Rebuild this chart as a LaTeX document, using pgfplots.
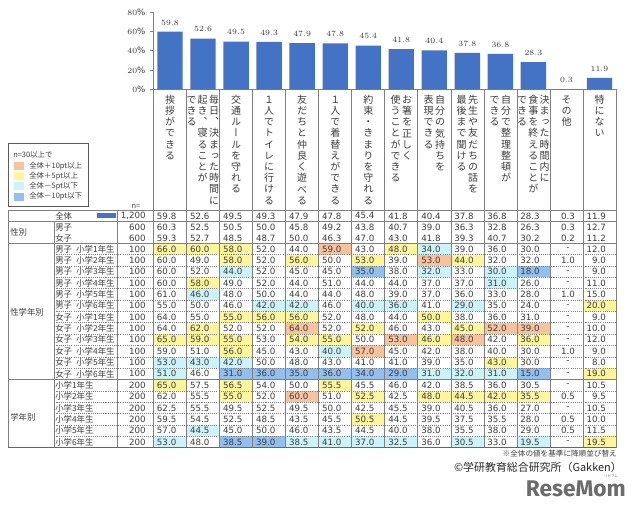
\documentclass[border=0pt]{standalone}
\usepackage{pgfplots}
\pgfplotsset{compat=1.18}
\usepackage{fontspec}
\setmainfont{DejaVu Sans}
\newfontfamily\jp{Noto Sans CJK JP}
\newfontfamily\jpv{Noto Sans CJK JP}[RawFeature=+vert]
\newfontfamily\logofont{Fira Sans}
\definecolor{barblue}{HTML}{4472C4}
\definecolor{txt}{HTML}{3C3C3C}
\definecolor{cn}{HTML}{FFFFFF}
\definecolor{cy}{HTML}{FFF59D}
\definecolor{co}{HTML}{F8C29E}
\definecolor{cl}{HTML}{CCF3FA}
\definecolor{cb}{HTML}{92BFEE}
\definecolor{gridc}{HTML}{808080}
\newdimen\px \px=0.75pt
\def\vtA#1{\ifx\relax#1\else\hbox to 11\px{\hss\vrule width 0pt height 8.4\px depth 2.8\px#1\hss}\expandafter\vtA\fi}
\newcommand\vt[1]{\vbox{\offinterlineskip\vtA#1\relax}}
\newcommand\gsp{\hspace{3.2pt}}
\tikzset{
  num/.style={font=\fontsize{6.5pt}{7pt}\selectfont, text=txt, inner sep=0pt},
  lab/.style={font=\jp\fontsize{6.3pt}{7pt}\selectfont, text=txt, inner sep=0pt},
  vlab/.style={anchor=north, inner sep=0pt, font=\jpv\fontsize{7.5pt}{8pt}\selectfont, text=txt},
  gl/.style={draw=gridc, line width=0.5pt},
  dl/.style={draw=gridc, line width=0.4pt, dash pattern=on 0.8pt off 0.8pt},
}
% #1 top, #2 height, #3 label, #4 n, #5 values
\newcommand\trow[5]{%
  \node[lab,anchor=west] at (55,{#1+#2/2}) {#3};
  \node[num,anchor=east] at (146,{#1+#2/2}) {#4};
  \foreach \v/\c [count=\i] in {#5}{%
    \edef\cc{c\c}%
    \fill[fill=\cc] ({153.5+33.04*(\i-1)},#1) rectangle ({153.5+33.04*\i},{#1+#2});
    \ifnum\i=13
      \node[num] at ({153.5+33.04*12.5+1.5},{#1+#2/2}) {\v};
    \else
      \node[num,anchor=east] at ({153.5+33.04*\i-10},{#1+#2/2}) {\v};
    \fi
  }}
\begin{document}
\begin{tikzpicture}
\begin{axis}[
  at={(115.125pt,-66.975pt)}, anchor=south west,
  width=346.875pt, height=57.75pt, scale only axis,
  xmin=0.5, xmax=14.5, ymin=0, ymax=80,
  axis x line*=bottom, axis y line*=left,
  xtick=\empty, ytick={0,20,40,60,80},
  yticklabel={\pgfmathprintnumber{\tick}\%},
  yticklabel style={font=\fontsize{6.5pt}{7pt}\selectfont, text=txt},
  tick align=outside, major tick length=2.5pt,
  axis line style={draw=gridc, line width=0.6pt},
  tick style={draw=gridc, line width=0.5pt},
  ybar, bar width=19pt,
  nodes near coords={\pgfmathprintnumber[fixed,fixed zerofill,precision=1]{\pgfplotspointmeta}},
  nodes near coords style={font=\fontsize{6.5pt}{7pt}\selectfont, text=txt, yshift=1.5pt},
  clip=false,
]
\addplot[fill=barblue, draw=none] coordinates {(1,59.8) (2,52.6) (3,49.5) (4,49.3) (5,47.9) (6,47.8) (7,45.4) (8,41.8) (9,40.4) (10,37.8) (11,36.8) (12,28.3) (13,0.3) (14,11.9)};
\end{axis}
\begin{scope}[x=0.75pt,y=-0.75pt]
\path (0,0) rectangle (640,513);
% vertical header labels
\node[vlab] at (170.0,94.7) {\vt{挨拶ができる}};
\node[vlab] at (214,94.7) {\vt{毎日、決まった時間に}};
\node[vlab] at (202.5,94.7) {\vt{起き、寝ることが}};
\node[vlab] at (191.5,94.7) {\vt{できる}};
\node[vlab] at (236.1,94.7) {\vt{交通ルールを守れる}};
\node[vlab] at (269.2,94.7) {\vt{１人でトイレに行ける}};
\node[vlab] at (302.2,94.7) {\vt{友だちと仲良く遊べる}};
\node[vlab] at (335.3,94.7) {\vt{１人で着替えができる}};
\node[vlab] at (368.3,94.7) {\vt{約束・きまりを守れる}};
\node[vlab] at (407,94.7) {\vt{お箸を正しく}};
\node[vlab] at (395.5,94.7) {\vt{使うことができる}};
\node[vlab] at (440,94.7) {\vt{自分の気持ちを}};
\node[vlab] at (428.5,94.7) {\vt{表現できる}};
\node[vlab] at (473,94.7) {\vt{先生や友だちの話を}};
\node[vlab] at (461.5,94.7) {\vt{最後まで聞ける}};
\node[vlab] at (506,94.7) {\vt{自分で整理整頓が}};
\node[vlab] at (494.5,94.7) {\vt{できる}};
\node[vlab] at (544.5,94.7) {\vt{決まった時間内に}};
\node[vlab] at (533.3,94.7) {\vt{食事を終えることが}};
\node[vlab] at (522,94.7) {\vt{できる}};
\node[vlab] at (566.6,94.7) {\vt{その他}};
\node[vlab] at (599.7,94.7) {\vt{特にない}};
% legend
\draw[draw=gridc!70!black, line width=0.5pt] (8.7,143.3) rectangle (88.3,206.7);
\node[anchor=west, inner sep=0pt, text=txt, font=\jp\fontsize{5.6pt}{6pt}\selectfont] at (13,155) {n=30以上で};
\fill[co] (14,162) rectangle (24,170);
\fill[cy] (14,172.3) rectangle (24,180.3);
\fill[cl] (14,182.3) rectangle (24,190.3);
\fill[cb] (14,192.7) rectangle (24,200.7);
\node[anchor=west, inner sep=0pt, text=txt, font=\jp\fontsize{5.6pt}{6pt}\selectfont] at (29,166) {全体＋10pt以上};
\node[anchor=west, inner sep=0pt, text=txt, font=\jp\fontsize{5.6pt}{6pt}\selectfont] at (29,176.3) {全体＋5pt以上};
\node[anchor=west, inner sep=0pt, text=txt, font=\jp\fontsize{5.6pt}{6pt}\selectfont] at (29,186.3) {全体－5pt以下};
\node[anchor=west, inner sep=0pt, text=txt, font=\jp\fontsize{5.6pt}{6pt}\selectfont] at (29,196.7) {全体－10pt以下};
\node[inner sep=0pt, text=txt, font=\jp\fontsize{5.6pt}{6pt}\selectfont] at (136,206) {n=};
% table rows
\trow{210}{11.7}{全体}{1,200}{59.8/n,52.6/n,49.5/n,49.3/n,47.9/n,47.8/n,45.4/n,41.8/n,40.4/n,37.8/n,36.8/n,28.3/n,0.3/n,11.9/n}
\fill[barblue] (97.3,213.3) rectangle (116,217.9);
\trow{221.7}{10.8}{男子}{600}{60.3/n,52.5/n,50.5/n,50.0/n,45.8/n,49.2/n,43.8/n,40.7/n,39.0/n,36.3/n,32.8/n,26.3/n,0.3/n,12.7/n}
\trow{232.5}{10.8}{女子}{600}{59.3/n,52.7/n,48.5/n,48.7/n,50.0/n,46.3/n,47.0/n,43.0/n,41.8/n,39.3/n,40.7/n,30.2/n,0.2/n,11.2/n}
\trow{243.3}{11.35}{男子\gsp 小学1年生}{100}{66.0/y,60.0/y,58.0/y,52.0/n,44.0/n,59.0/o,43.0/n,48.0/y,34.0/l,39.0/n,36.0/n,30.0/n,-/n,12.0/n}
\trow{254.65}{11.35}{男子\gsp 小学2年生}{100}{60.0/n,49.0/n,58.0/y,52.0/n,56.0/y,50.0/n,53.0/y,39.0/n,53.0/o,44.0/y,32.0/n,32.0/n,1.0/n,9.0/n}
\trow{266.0}{11.35}{男子\gsp 小学3年生}{100}{60.0/n,52.0/n,44.0/l,52.0/n,45.0/n,45.0/n,35.0/b,38.0/n,32.0/l,33.0/n,30.0/l,18.0/b,-/n,9.0/n}
\trow{277.35}{11.35}{男子\gsp 小学4年生}{100}{60.0/n,58.0/y,49.0/n,52.0/n,44.0/n,51.0/n,44.0/n,44.0/n,37.0/n,37.0/n,31.0/l,26.0/n,-/n,11.0/n}
\trow{288.7}{11.35}{男子\gsp 小学5年生}{100}{61.0/n,46.0/l,48.0/n,50.0/n,44.0/n,44.0/n,48.0/n,39.0/n,37.0/n,36.0/n,33.0/n,28.0/n,1.0/n,15.0/n}
\trow{300.05}{11.35}{男子\gsp 小学6年生}{100}{55.0/n,50.0/n,46.0/n,42.0/l,42.0/l,46.0/n,40.0/l,36.0/l,41.0/n,29.0/l,35.0/n,24.0/n,-/n,20.0/y}
\trow{311.4}{11.35}{女子\gsp 小学1年生}{100}{64.0/n,55.0/n,55.0/y,56.0/y,56.0/y,52.0/n,48.0/n,44.0/n,50.0/y,38.0/n,36.0/n,31.0/n,-/n,9.0/n}
\trow{322.75}{11.35}{女子\gsp 小学2年生}{100}{64.0/n,62.0/y,52.0/n,52.0/n,64.0/o,52.0/n,52.0/y,46.0/n,43.0/n,45.0/y,52.0/o,39.0/o,-/n,10.0/n}
\trow{334.1}{11.35}{女子\gsp 小学3年生}{100}{65.0/y,59.0/y,55.0/y,53.0/n,54.0/y,55.0/y,50.0/n,53.0/o,46.0/y,48.0/o,42.0/n,36.0/y,-/n,12.0/n}
\trow{345.45}{11.35}{女子\gsp 小学4年生}{100}{59.0/n,51.0/n,56.0/y,45.0/n,43.0/n,40.0/l,57.0/o,45.0/n,42.0/n,38.0/n,40.0/n,30.0/n,1.0/n,9.0/n}
\trow{356.8}{11.35}{女子\gsp 小学5年生}{100}{53.0/l,43.0/l,42.0/l,50.0/n,48.0/n,43.0/n,41.0/n,41.0/n,39.0/n,35.0/n,43.0/y,30.0/n,-/n,8.0/n}
\trow{368.15}{11.35}{女子\gsp 小学6年生}{100}{51.0/l,46.0/n,31.0/b,36.0/b,35.0/b,36.0/b,34.0/b,29.0/b,31.0/l,32.0/l,31.0/l,15.0/b,-/n,19.0/y}
\trow{379.5}{11.37}{小学1年生}{200}{65.0/y,57.5/n,56.5/y,54.0/n,50.0/n,55.5/y,45.5/n,46.0/n,42.0/n,38.5/n,36.0/n,30.5/n,-/n,10.5/n}
\trow{390.87}{11.37}{小学2年生}{200}{62.0/n,55.5/n,55.0/y,52.0/n,60.0/o,51.0/n,52.5/y,42.5/n,48.0/y,44.5/y,42.0/y,35.5/y,0.5/n,9.5/n}
\trow{402.24}{11.37}{小学3年生}{200}{62.5/n,55.5/n,49.5/n,52.5/n,49.5/n,50.0/n,42.5/n,45.5/n,39.0/n,40.5/n,36.0/n,27.0/n,-/n,10.5/n}
\trow{413.61}{11.37}{小学4年生}{200}{59.5/n,54.5/n,52.5/n,48.5/n,43.5/n,45.5/n,50.5/y,44.5/n,39.5/n,37.5/n,35.5/n,28.0/n,0.5/n,10.0/n}
\trow{424.98}{11.37}{小学5年生}{200}{57.0/n,44.5/l,45.0/n,50.0/n,46.0/n,43.5/n,44.5/n,40.0/n,38.0/n,35.5/n,38.0/n,29.0/n,0.5/n,11.5/n}
\trow{436.35}{11.37}{小学6年生}{200}{53.0/l,48.0/n,38.5/b,39.0/b,38.5/l,41.0/l,37.0/l,32.5/l,36.0/n,30.5/l,33.0/n,19.5/l,-/n,19.5/y}
% group labels
\node[lab,anchor=west] at (10,232.5) {性別};
\node[lab,anchor=west] at (10,312.5) {性学年別};
\node[lab,anchor=west] at (10,417) {学年別};
% grid lines
\foreach \k in {1,...,11,13,14,15,16,17} \draw[dl] (54.3,{243.3+11.35*\k}) -- (616.1,{243.3+11.35*\k});
\foreach \i in {0,...,14} \draw[gl] ({153.5+33.04*\i},89.3) -- ({153.5+33.04*\i},447.7);
\draw[gl] (117.3,210) -- (117.3,447.7);
\draw[gl] (54.3,221.7) -- (54.3,447.7);
\draw[gl] (8.3,210) -- (8.3,447.7);
\foreach \y in {210,221.7,243.3,379.5} \draw[gl] (8.3,\y) -- (616.1,\y);
\draw[draw=gridc!80!black, line width=0.8pt] (8.3,447.7) -- (616.1,447.7);
% notes
\node[anchor=east, inner sep=0pt, text=txt, font=\jp\fontsize{5.7pt}{6pt}\selectfont] at (617,453.5) {※全体の値を基準に降順並び替え};
\node[anchor=east, inner sep=0pt, text=black!85, font=\jp\fontsize{8.2pt}{9pt}\selectfont] at (622,467) {©学研教育総合研究所（Gakken）};
\node[anchor=east, inner sep=0pt, text=black!58, font=\logofont\bfseries\fontsize{17pt}{18pt}\selectfont] at (626,489) {ReseMom};
\node[inner sep=0pt, text=black!55, font=\jp\fontsize{2.6pt}{3pt}\selectfont] at (611,476) {リセマム};
\end{scope}
\end{tikzpicture}
\end{document}
